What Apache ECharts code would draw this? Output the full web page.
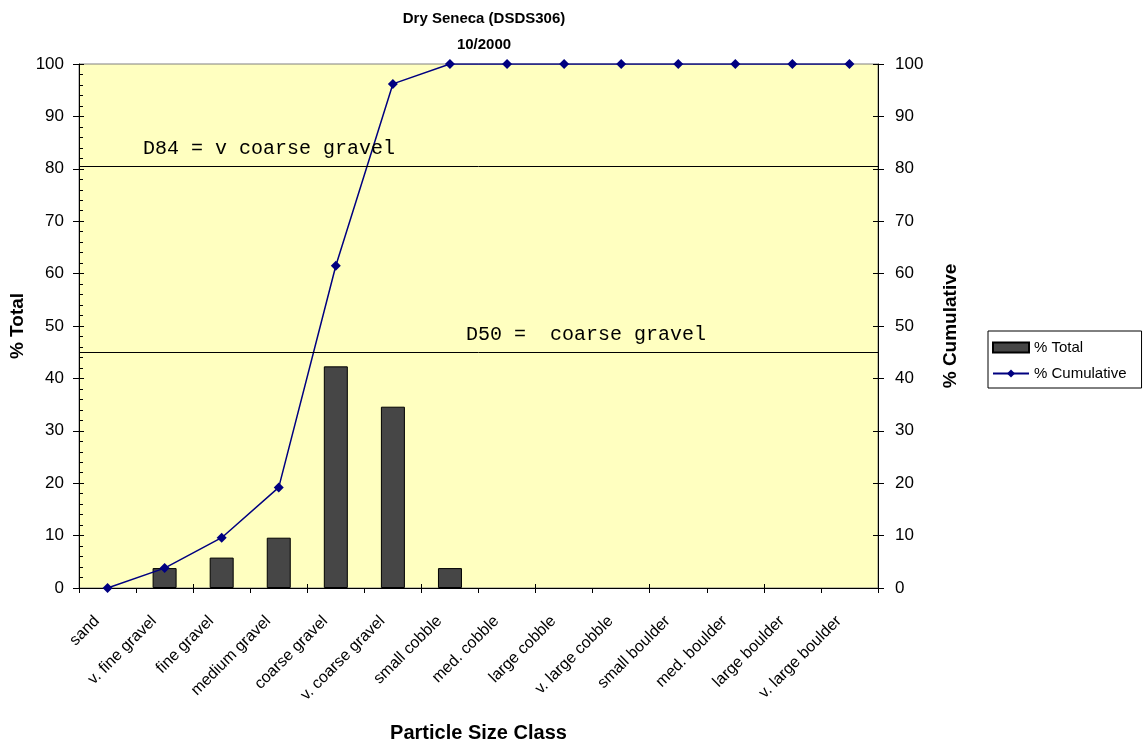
<!DOCTYPE html>
<html><head><meta charset="utf-8">
<script src="https://cdn.jsdelivr.net/npm/echarts@6/dist/echarts.min.js"></script>
<style>html,body{margin:0;padding:0;background:#fff}#c{width:1147px;height:747px}</style>
</head><body><div id="c"></div>
<script>
const categories = ["sand","v. fine gravel","fine gravel","medium gravel","coarse gravel","v. coarse gravel","small cobble","med. cobble","large cobble","v. large cobble","small boulder","med. boulder","large boulder","v. large boulder"];
const pctTotal = [0, 3.8, 5.8, 9.6, 42.3, 34.6, 3.8, 0, 0, 0, 0, 0, 0, 0];
const pctCumulative = [0, 3.8, 9.6, 19.2, 61.5, 96.2, 100, 100, 100, 100, 100, 100, 100, 100];
const d84Value = 80.5, d84Label = "D84 = v coarse gravel";
const d50Value = 45, d50Label = "D50 =  coarse gravel";
const yTicks = [0,10,20,30,40,50,60,70,80,90,100];

const chart = echarts.init(document.getElementById('c'));
const font = 'Liberation Sans, Arial, sans-serif';
const gridBox = {left: 79, right: 269, top: 64, bottom: 159, outerBoundsMode: 'none', containLabel: false};
const yMin = yTicks[0], yMax = yTicks[yTicks.length-1], yInt = yTicks[1]-yTicks[0];
const yAxisCommon = {
  type: 'value', min: yMin, max: yMax, interval: yInt,
  axisLine: {show: true, lineStyle: {color: '#000', width: 1}},
  axisTick: {show: true, length: 6, lineStyle: {color: '#000'}},
  axisLabel: {color: '#000', fontSize: 17, fontFamily: font},
  splitLine: {show: false},
  nameLocation: 'middle', nameMoveOverlap: false,
  nameTextStyle: {color: '#000', fontSize: 19, fontWeight: 'bold', fontFamily: font}
};
const overlayY = {
  type: 'value', min: yMin, max: yMax, interval: yInt, gridIndex: 1,
  axisLine: {show: false}, axisLabel: {show: false}, splitLine: {show: false},
  axisTick: {show: true, inside: true, length: 5, lineStyle: {color: '#000'}}
};
chart.setOption({
  animation: false,
  title: {
    text: 'Dry Seneca (DSDS306)\n10/2000', left: 479, top: 1, textAlign: 'center',
    textStyle: {fontSize: 15, fontWeight: 'bold', fontFamily: font, color: '#000', lineHeight: 26}
  },
  grid: [
    Object.assign({show: true, backgroundColor: '#FFFFC0', borderColor: '#808080', borderWidth: 1}, gridBox),
    Object.assign({show: false}, gridBox)
  ],
  legend: {
    orient: 'vertical', left: 988, top: 331, padding: [9, 15, 7, 4], itemGap: 11,
    backgroundColor: '#fff', borderColor: '#000', borderWidth: 1,
    itemWidth: 36, itemHeight: 10,
    textStyle: {fontSize: 15, fontFamily: font, color: '#000'},
    data: [{name: '% Total', icon: 'rect'}, {name: '% Cumulative'}]
  },
  xAxis: [
    {
      type: 'category', data: categories, name: 'Particle Size Class', nameLocation: 'middle', nameGap: 135,
      nameMoveOverlap: false,
      nameTextStyle: {color: '#000', fontSize: 20, fontWeight: 'bold', fontFamily: font},
      axisLine: {lineStyle: {color: '#000', width: 1}},
      axisTick: {show: true, length: 5, lineStyle: {color: '#000'}},
      axisLabel: {color: '#000', fontSize: 16, fontFamily: font, rotate: 45, interval: 0, margin: 20, padding: [0, 15, 0, 0]}
    },
    {
      type: 'category', data: categories, gridIndex: 1,
      axisLine: {show: false}, axisLabel: {show: false},
      axisTick: {show: true, inside: true, length: 4, lineStyle: {color: '#000'}}
    }
  ],
  yAxis: [
    Object.assign({}, yAxisCommon, {position: 'left', name: '% Total', nameGap: 52,
      axisLabel: Object.assign({}, yAxisCommon.axisLabel, {margin: 15})}),
    Object.assign({}, yAxisCommon, {position: 'right', name: '% Cumulative', nameGap: 63, nameRotate: 90,
      axisLabel: Object.assign({}, yAxisCommon.axisLabel, {margin: 17})}),
    Object.assign({}, overlayY, {position: 'left',
      minorTick: {show: true, splitNumber: 5, length: 4, lineStyle: {color: '#000'}}}),
    Object.assign({}, overlayY, {position: 'right'})
  ],
  series: [
    {
      name: '% Total', type: 'bar', data: pctTotal.map(v => v === 0 ? '-' : v), barWidth: 24, yAxisIndex: 0,
      itemStyle: {color: '#464646', borderColor: '#000', borderWidth: 1},
      markLine: {
        silent: true, symbol: 'none',
        lineStyle: {color: '#000', width: 1, type: 'solid'},
        label: {show: true, position: 'insideStartTop', fontFamily: 'Liberation Mono, Courier New, monospace', fontSize: 20, color: '#000'},
        data: [
          {yAxis: d84Value, label: {formatter: d84Label, distance: [64, 7]}},
          {yAxis: d50Value, label: {formatter: d50Label, distance: [387, 7]}}
        ]
      }
    },
    {
      name: '% Cumulative', type: 'line', data: pctCumulative, yAxisIndex: 1,
      symbol: 'diamond', symbolSize: 10,
      lineStyle: {color: '#000080', width: 1.5},
      itemStyle: {color: '#000080'}
    }
  ]
});
</script></body></html>
